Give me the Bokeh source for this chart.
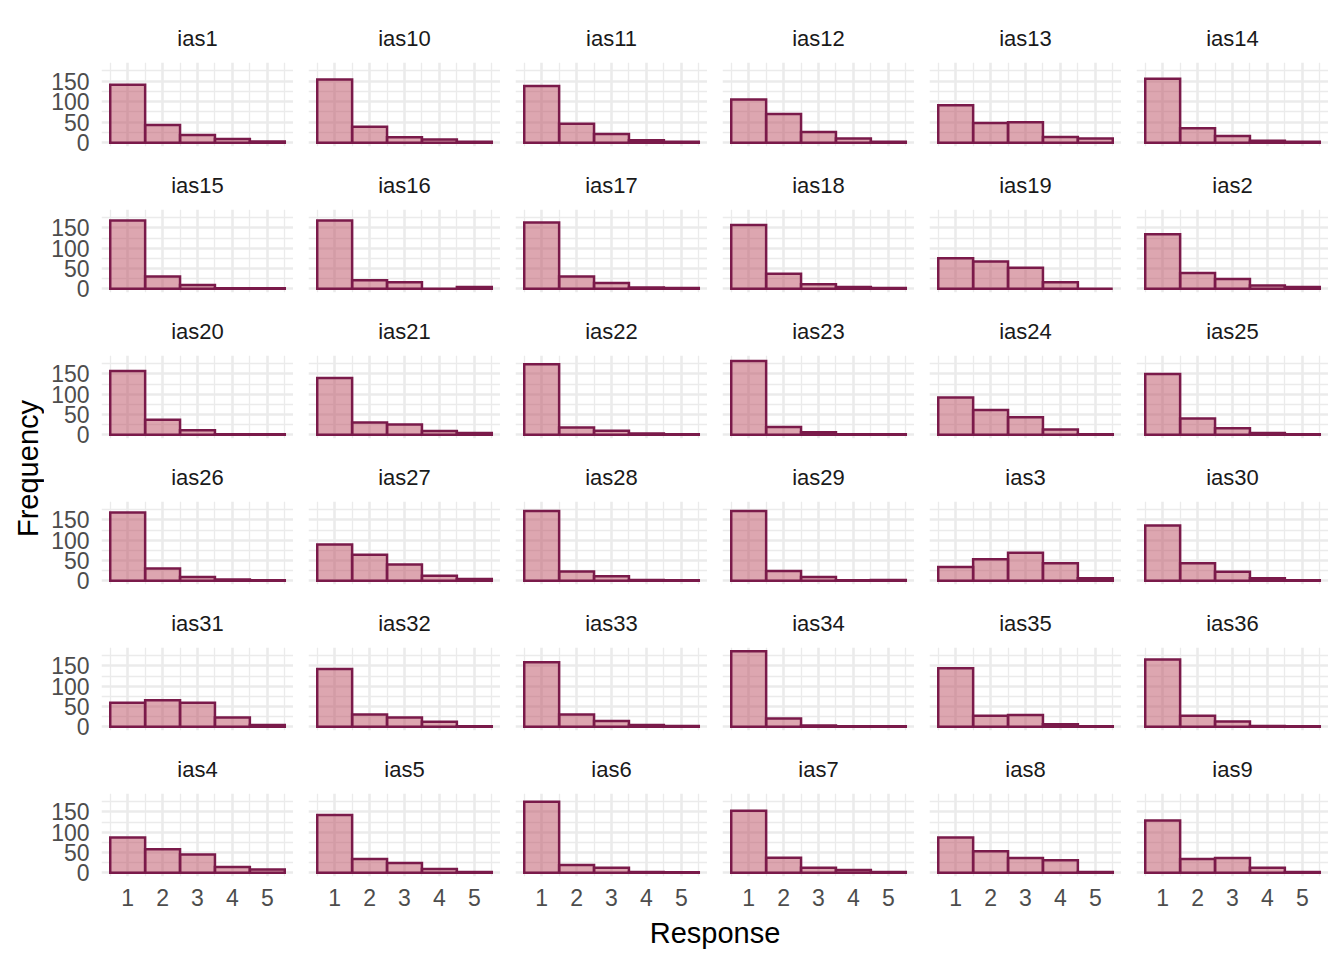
import math
from bokeh.plotting import figure
from bokeh.layouts import row, column
from bokeh.models import Range1d, FixedTicker, Label, ColumnDataSource
from bokeh.embed import file_html
from bokeh.resources import INLINE

# ---------------- data ----------------
items = ["ias1", "ias10", "ias11", "ias12", "ias13", "ias14",
         "ias15", "ias16", "ias17", "ias18", "ias19", "ias2",
         "ias20", "ias21", "ias22", "ias23", "ias24", "ias25",
         "ias26", "ias27", "ias28", "ias29", "ias3", "ias30",
         "ias31", "ias32", "ias33", "ias34", "ias35", "ias36",
         "ias4", "ias5", "ias6", "ias7", "ias8", "ias9"]
responses = [1, 2, 3, 4, 5]
# frequency of each response, one value per item (same order as items)
resp1 = [141, 154, 138, 105, 91, 156,
         168, 168, 163, 157, 75, 134,
         157, 140, 174, 182, 92, 150,
         168, 89, 172, 172, 34, 136,
         59, 142, 159, 186, 144, 166,
         87, 142, 175, 153, 87, 129]
resp2 = [43, 39, 46, 70, 48, 35,
         30, 21, 30, 37, 67, 39,
         37, 30, 18, 19, 61, 40,
         30, 64, 23, 24, 53, 43,
         65, 30, 30, 20, 27, 27,
         58, 34, 19, 37, 53, 34]
resp3 = [19, 13, 21, 26, 50, 16,
         9, 16, 14, 11, 52, 24,
         11, 25, 10, 6, 43, 16,
         9, 40, 11, 9, 69, 22,
         59, 23, 14, 3, 29, 13,
         45, 24, 12, 12, 36, 36]
resp4 = [9, 8, 6, 10, 14, 5,
         1, 0, 3, 4, 16, 8,
         1, 9, 3, 1, 13, 4,
         3, 12, 2, 1, 43, 6,
         23, 12, 4, 1, 6, 2,
         14, 9, 2, 7, 31, 12]
resp5 = [3, 2, 2, 2, 10, 2,
         1, 4, 2, 2, 0, 4,
         1, 4, 1, 1, 1, 1,
         1, 4, 1, 2, 6, 1,
         4, 1, 2, 1, 1, 1,
         8, 2, 1, 2, 2, 2]
x_ticks = [1, 2, 3, 4, 5]
y_ticks = [0, 50, 100, 150]

# ---------------- style ----------------
FONT = "Liberation Sans"
FILL = "#BB4D61"
LINE = "#7A1A4A"
GRID = "#EBEBEB"
NCOL, NROW = 6, 6
FRAME_W, FRAME_H = 192, 84

ymax = max(max(resp1), max(resp2), max(resp3), max(resp4), max(resp5))
y0, y1 = -0.05 * ymax, 1.05 * ymax

cells = []
grid_h = 0
for r in range(NROW):
    row_figs = []
    top = 62 if r == 0 else 50
    bottom = 40 if r == NROW - 1 else 12
    grid_h += top + FRAME_H + bottom
    for c in range(NCOL):
        i = r * NCOL + c
        counts = [resp1[i], resp2[i], resp3[i], resp4[i], resp5[i]]
        left = 57 if c == 0 else 15
        p = figure(width=left + FRAME_W, height=top + FRAME_H + bottom,
                   x_range=Range1d(0.25, 5.75), y_range=Range1d(y0, y1),
                   output_backend="svg", toolbar_location=None,
                   min_border_left=left, min_border_right=0,
                   min_border_top=top, min_border_bottom=bottom,
                   title=items[i])
        p.title.align = "center"
        p.title.text_font = FONT
        p.title.text_font_size = "22px"
        p.title.text_font_style = "normal"
        p.title.text_color = "#1A1A1A"
        p.title.standoff = 24
        p.outline_line_color = None
        p.background_fill_color = "white"
        p.border_fill_color = "white"

        xt = FixedTicker(ticks=x_ticks, minor_ticks=[0.5, 1.5, 2.5, 3.5, 4.5, 5.5])
        yt = FixedTicker(ticks=y_ticks, minor_ticks=[25, 75, 125, 175])
        p.xaxis.ticker = xt
        p.yaxis.ticker = yt
        p.xgrid.ticker = xt
        p.ygrid.ticker = yt
        for g in (p.xgrid, p.ygrid):
            g.grid_line_color = GRID
            g.grid_line_width = 2.6
            g.minor_grid_line_color = GRID
            g.minor_grid_line_width = 1.3
        for ax in (p.xaxis, p.yaxis):
            ax.axis_line_color = None
            ax.major_tick_line_color = None
            ax.minor_tick_line_color = None
            ax.major_tick_out = 0
            ax.major_tick_in = 0
            ax.minor_tick_out = 0
            ax.minor_tick_in = 0
            ax.major_label_text_font = FONT
            ax.major_label_text_font_size = "23px"
            ax.major_label_text_color = "#4D4D4D"
        p.yaxis.major_label_standoff = 12
        p.xaxis.major_label_standoff = 12
        p.xaxis.visible = (r == NROW - 1)
        p.yaxis.visible = (c == 0)

        src = ColumnDataSource(dict(x=responses, top=counts))
        p.vbar(x="x", top="top", bottom=0, width=1, source=src,
               fill_color=FILL, fill_alpha=0.5,
               line_color=LINE, line_width=2.5, line_join="miter")
        row_figs.append(p)
    cells.append(row(*row_figs, spacing=0))

grid = column(*cells, spacing=0)
grid_w = 57 + FRAME_W + (NCOL - 1) * (15 + FRAME_W)

# y axis title
YLAB_W = 44
ylab = figure(width=YLAB_W, height=grid_h, x_range=Range1d(0, YLAB_W), y_range=Range1d(0, grid_h),
              output_backend="svg", toolbar_location=None, min_border=0)
ylab.axis.visible = False
ylab.grid.visible = False
ylab.outline_line_color = None
ylab.add_layout(Label(x=27, y=grid_h - 468, text="Frequency", angle=math.pi / 2,
                      text_align="center", text_baseline="middle",
                      text_font=FONT, text_font_size="29px", text_color="black"))

# x axis title, centred under the panel area
XLAB_H = 36
panel_left = 57
panel_right = grid_w
xlab = figure(width=grid_w, height=XLAB_H, x_range=Range1d(0, grid_w), y_range=Range1d(0, XLAB_H),
              output_backend="svg", toolbar_location=None, min_border=0)
xlab.axis.visible = False
xlab.grid.visible = False
xlab.outline_line_color = None
xlab.add_layout(Label(x=(panel_left + panel_right) / 2, y=XLAB_H - 16, text="Response",
                      text_align="center", text_baseline="middle",
                      text_font=FONT, text_font_size="29px", text_color="black"))

layout = row(ylab, column(grid, xlab, spacing=0), spacing=0)

open("out.html", "w").write(file_html(layout, INLINE))
